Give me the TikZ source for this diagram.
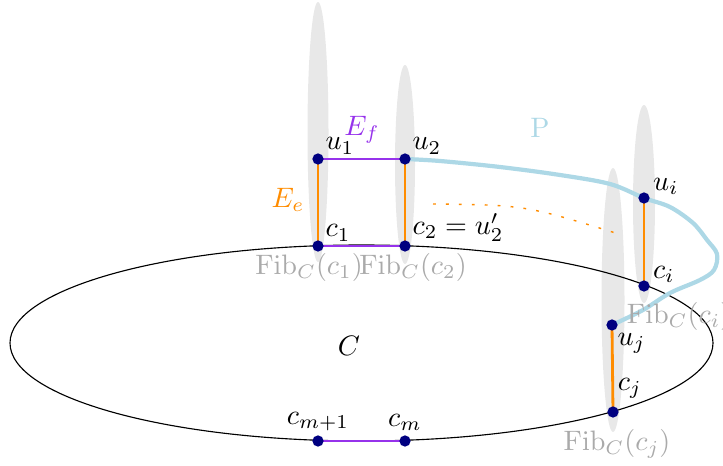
\documentclass[tikz,border=0pt]{standalone}
\usepackage{amsmath}
\usepackage{xcolor}
\usetikzlibrary{positioning}

\definecolor{fibgray}{RGB}{232,232,232}
\definecolor{fibtext}{RGB}{170,170,170}
\definecolor{edgef}{RGB}{150,50,235}
\definecolor{edgee}{RGB}{255,140,0}
\definecolor{pathblue}{RGB}{173,216,230}
\definecolor{dotblue}{RGB}{0,0,128}

\begin{document}
\begin{tikzpicture}[x=0.0125cm, y=-0.0125cm,
  lab/.style={inner sep=1pt},
  fiber/.style={fill=fibgray},
  fibname/.style={text=fibtext},
  fedge/.style={edgef, line width=1pt},
  eedge/.style={edgee, line width=1pt},
  pathP/.style={pathblue, line width=1.5pt},
  hint/.style={edgee, line width=0.5pt, dash pattern=on 1pt off 3.6pt}]
  \useasboundingbox (0,0) rectangle (723,466);
  % points on the fibres
  \coordinate (u1) at (318,159);
  \coordinate (u2) at (405,159);
  \coordinate (c1) at (318,246);
  \coordinate (c2) at (405,246);
  \coordinate (ui) at (644,198);
  \coordinate (ci) at (644,286);
  \coordinate (uj) at (612,325);
  \coordinate (cj) at (613,412);
  \coordinate (cmm) at (318,441);
  \coordinate (cm) at (405,441);
  % fibres
  \fill[fiber] (318,132) ellipse (10.5 and 130);
  \fill[fiber] (405,164.5) ellipse (10 and 99.5);
  \fill[fiber] (644,204) ellipse (11 and 99);
  \fill[fiber] (613,300) ellipse (11.5 and 132);
  % the curve C
  \draw (361.5,343) ellipse (351.5 and 98);
  \node (C) at (349,346) {$C$};
  % edges
  \draw[fedge] (u1) -- (u2);
  \draw[fedge] (c1) -- (c2);
  \draw[fedge] (cmm) -- (cm);
  \draw[eedge] (u1) -- (c1);
  \draw[eedge] (u2) -- (c2);
  \draw[eedge] (ui) -- (ci);
  \draw[eedge] (uj) -- (cj);
  \node[text=edgef] (Ef) at (362,130) {$E_f$};
  \node[text=edgee] (Ee) at (288,200) {$E_e$};
  % the path P
  \draw[pathP] plot[smooth, tension=0.55] coordinates {(u2) (440,161) (500,167)
    (560,175) (610,184) (ui) (670,207) (693,223) (707,240) (717,254) (714,270)
    (700,280) (670,293) (643,310) (uj)};
  \node[text=pathblue] (P) at (540,128) {P};
  % dotted hint
  \coordinate (hintA) at (433,204);
  \coordinate (hintB) at (622,235);
  \draw[hint] (hintA) .. controls (525,205) .. (hintB);
  % dots
  \foreach \p in {u1,u2,c1,c2,ui,ci,uj,cj,cmm,cm}
    \fill[dotblue] (\p) circle (2pt);
  % labels
  \node[lab, above right=0.5pt and 1.5pt of u1] (u1l) {$u_1$};
  \node[lab, above right=0.5pt and 1.5pt of u2] (u2l) {$u_2$};
  \node[lab, above right=0.5pt and 1.5pt of c1] (c1l) {$c_1$};
  \node[lab, above right=0.5pt and 1.5pt of c2] (c2l) {$c_2 = u_2'$};
  \node[lab, above right=0pt and 2pt of ui] (uil) {$u_i$};
  \node[lab, above right=0pt and 2pt of ci] (cil) {$c_i$};
  \node[lab, below right=1.8pt and 0.8pt of uj] (ujl) {$u_j$};
  \node[lab, above right=3.5pt and 0.5pt of cj] (cjl) {$c_j$};
  \node[lab, above=2.5pt of cmm] (cmml) {$c_{m+1}$};
  \node[lab, above=2.5pt of cm] (cml) {$c_m$};
  \node[fibname] (f1) at (309,267) {$\mathrm{Fib}_C(c_1)$};
  \node[fibname] (f2) at (413,267) {$\mathrm{Fib}_C(c_2)$};
  \node[fibname] (fi) at (679,316) {$\mathrm{Fib}_C(c_i)$};
  \node[fibname] (fj) at (617,444) {$\mathrm{Fib}_C(c_j)$};
\end{tikzpicture}
\end{document}
